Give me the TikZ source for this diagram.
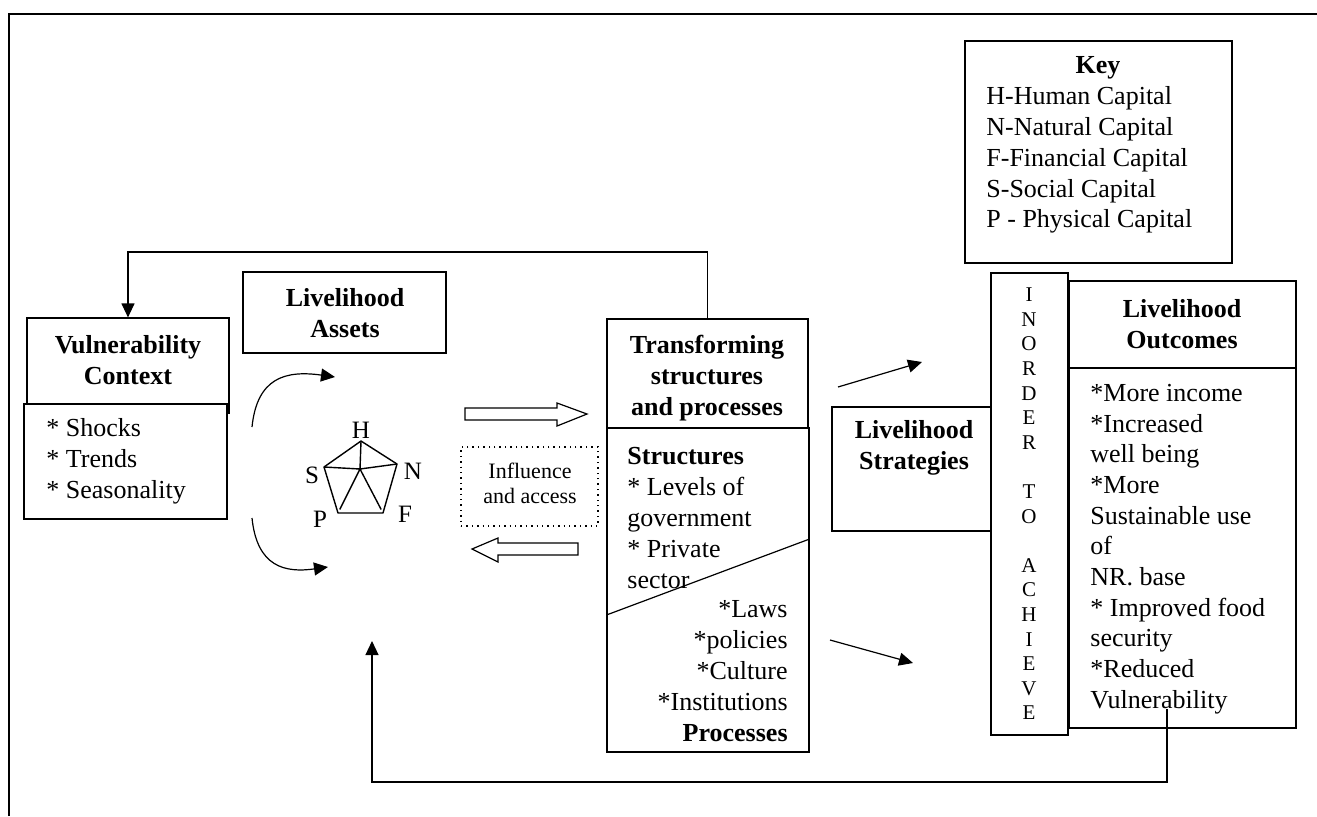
\documentclass[tikz,border=0pt]{standalone}
\usepackage{fontspec}
\setmainfont{Liberation Serif}
\usetikzlibrary{arrows.meta,fit,calc}
\begin{document}
\begin{tikzpicture}[x=0.5pt,y=-0.5pt,
  box/.style={draw, line width=0.6pt, inner sep=0pt, fill=white},
  txt/.style={inner sep=0pt, font=\fontsize{13}{15.4}\selectfont},
  btxt/.style={inner sep=0pt, font=\fontsize{13}{15.4}\selectfont\bfseries},
  arr/.style={line width=0.6pt, -{Triangle[length=7pt,width=6.5pt]}},
  blockarrow/.style={draw, line width=0.6pt, line join=miter},
]
\useasboundingbox (0,0) rectangle (1317,816);
% page frame
\draw[line width=0.8pt] (9,816) -- (9,14) -- (1317,14);

% Key
\node[box, fit={(965,41) (1232,263)}] (key) {};
\node[btxt] (keyt) at (1098,68) {Key};
\node[txt, align=left, anchor=west] (keyl) at (986,160) {H-Human Capital\\N-Natural Capital\\F-Financial Capital\\S-Social Capital\\P - Physical Capital};

% Vulnerability context
\node[box, fit={(27,318) (229,413)}] (vulnhead) {};
\node[box, fit={(24,404) (227,519)}] (vulnbody) {};
\node[btxt, align=center] (vulnt) at (128,360) {Vulnerability\\Context};
\node[txt, align=left, anchor=west] (vulnl) at (46,461) {{*} Shocks\\{*} Trends\\{*} Seasonality};

% Livelihood assets
\node[box, fit={(243,272) (446,353)}] (assets) {};
\node[btxt, align=center] (assetst) at (345,313) {Livelihood\\Assets};

% pentagon
\coordinate (pH) at (361,441);
\coordinate (pN) at (397,464);
\coordinate (pF) at (383,513);
\coordinate (pP) at (338,513);
\coordinate (pS) at (324,467);
\coordinate (pC) at (360,469);
\draw[line width=0.7pt, line join=round] (pH) -- (pN) -- (pF) -- (pP) -- (pS) -- cycle;
\draw[line width=0.7pt] (pC) -- (pH) (pC) -- (pN) (pC) -- (pS) (pC) -- ($(pC)!0.92!(pP)$) (pC) -- ($(pC)!0.92!(pF)$);
\fill (pC) circle (1.3);
\node[inner sep=0pt, font=\fontsize{12.5}{14}\selectfont] (lH) at (361,430) {H};
\node[inner sep=0pt, font=\fontsize{12.5}{14}\selectfont] (lS) at (312,475) {S};
\node[inner sep=0pt, font=\fontsize{12.5}{14}\selectfont] (lN) at (413,471) {N};
\node[inner sep=0pt, font=\fontsize{12.5}{14}\selectfont] (lP) at (320,519) {P};
\node[inner sep=0pt, font=\fontsize{12.5}{14}\selectfont] (lF) at (405,514) {F};

% curved arrows
\coordinate (c1s) at (252,427);
\coordinate (c1e) at (335,377);
\coordinate (c2s) at (252,518);
\coordinate (c2e) at (328,567);
\draw[arr] (c1s) .. controls (257,378) and (285,370) .. (c1e);
\draw[arr] (c2s) .. controls (257,567) and (285,573) .. (c2e);

% block arrows and influence
\draw[blockarrow] (465,408) -- (557,408) -- (557,403) -- (587,414) -- (557,426) -- (557,420) -- (465,420) -- cycle;
\draw[blockarrow] (578,543) -- (498,543) -- (498,538) -- (472,549) -- (498,562) -- (498,555) -- (578,555) -- cycle;
\node[draw, dotted, line width=0.7pt, inner sep=0pt, fit={(461,447) (598,526)}] (infl) {};
\node[inner sep=0pt, align=center, font=\fontsize{11}{12.5}\selectfont] (inflt) at (530,483) {Influence\\and access};

% transforming structures
\node[box, fit={(607,319) (808,428)}] (transhead) {};
\node[box, fit={(607,428) (809,752)}] (transbody) {};
\node[btxt, align=center] (transt) at (707,378) {Transforming\\structures\\and processes};
\draw[line width=0.6pt] (transbody.west |- 0,615) -- (transbody.east |- 0,539);
\node[txt, align=left, anchor=west] (structs) at (627,518) {\textbf{Structures}\\{*} Levels of\\government\\{*} Private\\sector};
\node[txt, align=right, anchor=east] (procs) at (788,671) {{*}Laws\\{*}policies\\{*}Culture\\{*}Institutions\\\textbf{Processes}};

% strategies
\node[box, fit={(832,407) (991,531)}] (strat) {};
\node[btxt, align=center] (stratt) at (914,448) {Livelihood\\Strategies};

% in order to achieve
\node[box, fit={(991,273) (1068,735)}] (inorder) {};
\node[inner sep=0pt, align=center, font=\fontsize{10.5}{12.3}\selectfont] (inordert) at (1029,504) {I\\N\\O\\R\\D\\E\\R\\[12.3pt]T\\O\\[12.3pt]A\\C\\H\\I\\E\\V\\E};

% outcomes
\node[box, fit={(1069,281) (1296,368)}] (outhead) {};
\node[box, fit={(1069,368) (1296,728)}] (outbody) {};
\node[btxt, align=center] (outt) at (1182,324) {Livelihood\\Outcomes};
\node[txt, align=left, anchor=west, font=\fontsize{13}{15.35}\selectfont] (outl) at (1090,549) {{*}More income\\{*}Increased\\well being\\{*}More\\Sustainable use\\of\\NR. base\\{*} Improved food\\security\\{*}Reduced\\Vulnerability};

% straight arrows
\coordinate (a1s) at (838,387);
\coordinate (a1e) at (922,362);
\coordinate (a2s) at (830,640);
\coordinate (a2e) at (913,663);
\draw[arr] (a1s) -- (a1e);
\draw[arr] (a2s) -- (a2e);

% feedback loops
\coordinate (fbtop) at (0,252);
\draw[arr] (transhead.north) -- (transhead.north |- fbtop) -| (vulnhead.north);
\coordinate (fbstart) at (1167,709);
\coordinate (fbbot) at (0,782);
\coordinate (fbend) at (372,641);
\draw[arr] (fbstart) -- (fbstart |- fbbot) -| (fbend);
\end{tikzpicture}
\end{document}
